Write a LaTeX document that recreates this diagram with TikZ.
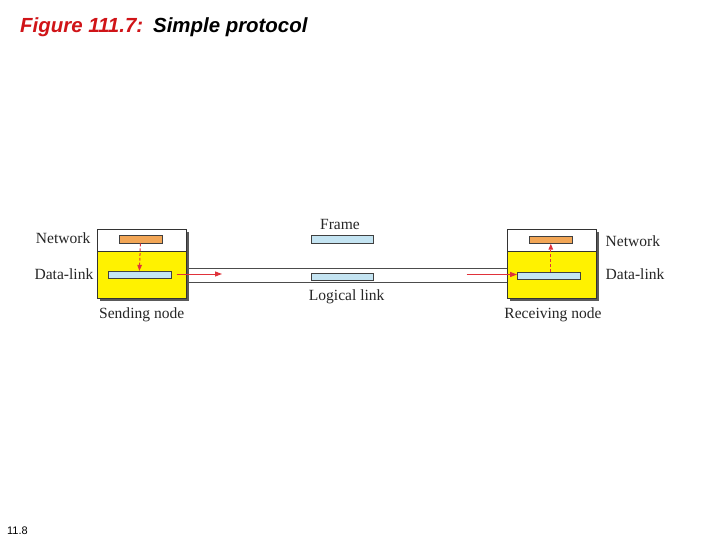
\documentclass[tikz,border=0pt]{standalone}
\usepackage{fontspec}
\setmainfont{Liberation Serif}
\newfontfamily\arialfont{Liberation Sans}
\usetikzlibrary{arrows.meta,shadows}
\definecolor{titlered}{HTML}{D01418}
\definecolor{nodeyellow}{HTML}{FFF200}
\definecolor{netorange}{HTML}{F2A656}
\definecolor{dlblue}{HTML}{C4E4F2}
\definecolor{arrred}{HTML}{E0323A}
\definecolor{shadowgray}{HTML}{5A5A5A}
\tikzset{
  nodebox/.style={draw=black!80, line width=0.8bp, fill=nodeyellow,
    minimum width=89bp, minimum height=69bp, inner sep=0pt,
    drop shadow={shadow xshift=2.5bp, shadow yshift=-2.5bp, fill=shadowgray, opacity=1},
    path picture={
      \fill[white] (path picture bounding box.north west) rectangle ([yshift=-22.3bp]path picture bounding box.north east);
      \draw[black!80, line width=0.8bp] ([yshift=-22.3bp]path picture bounding box.north west) -- ([yshift=-22.3bp]path picture bounding box.north east);
    }},
  netbar/.style={draw=black!75, line width=0.5bp, fill=netorange, minimum width=43bp, minimum height=7.5bp, inner sep=0pt},
  dlbar/.style={draw=black!75, line width=0.5bp, fill=dlblue, minimum width=62.7bp, minimum height=7.5bp, inner sep=0pt},
  channel/.style={draw=black!70, line width=0.7bp, fill=white, minimum width=330bp, minimum height=13.3bp, inner sep=0pt},
  lbl/.style={font=\fontsize{15.6}{18}\selectfont, text=black!85, inner sep=0pt},
  flow/.style={arrred, line width=1bp, -{Triangle[length=7bp,width=5bp]}},
  updown/.style={arrred, line width=1bp, dashed, dash pattern=on 2.8bp off 2bp, -{Triangle[length=6bp,width=4.5bp]}},
}
\begin{document}
\begin{tikzpicture}[x=1bp,y=-1bp]
\useasboundingbox[fill=white] (0,0) rectangle (720,540);
% title
\node[anchor=base west, inner sep=0pt, font=\arialfont\bfseries\itshape\fontsize{20.5}{23}\selectfont] (title) at (20,33)
  {\textcolor{titlered}{Figure 111.7:}\hspace{10bp}Simple protocol};
\node[anchor=base west, inner sep=0pt, font=\arialfont\fontsize{11}{13}\selectfont] (pg) at (7,534) {11.8};
% logical link channel
\node[channel] (link) at (347,275.3) {};
% nodes
\node[nodebox] (snd) at (141.7,263.6) {};
\node[nodebox] (rcv) at (552.2,263.6) {};
% bars
\node[netbar] (sorange) at (140.4,239.5) {};
\node[dlbar] (sblue) at (139.4,274.9) {};
\node[netbar] (rorange) at (550.8,239.7) {};
\node[dlbar] (rblue) at (548.7,275.6) {};
\node[dlbar] (fr1) at (342.3,239.5) {};
\node[dlbar] (fr2) at (342.3,276.8) {};
% arrows
\draw[updown] (sorange.south) -- (sblue.north);
\draw[updown] (rblue.north -| rorange.south) -- (rorange.south);
\coordinate (sa) at (176.5,274);
\coordinate (sb) at (222,274);
\coordinate (ra) at (466.5,274.5);
\draw[flow] (sa) -- (sb);
\draw[flow] (ra) -- (ra -| rblue.west);
% labels
\node[lbl, anchor=east] (snet) at (90.5,238.5) {Network};
\node[lbl, anchor=east] (sdl) at (93.5,274) {Data-link};
\node[lbl, anchor=west] (rnet) at (605.5,241.5) {Network};
\node[lbl, anchor=west] (rdl) at (605.5,273.8) {Data-link};
\node[lbl] (sname) at (141.7,314.5) {Sending node};
\node[lbl] (rname) at (553,314.5) {Receiving node};
\node[lbl] (frame) at (340,224.5) {Frame};
\node[lbl] (ll) at (346.7,296.5) {Logical link};
\end{tikzpicture}
\end{document}
